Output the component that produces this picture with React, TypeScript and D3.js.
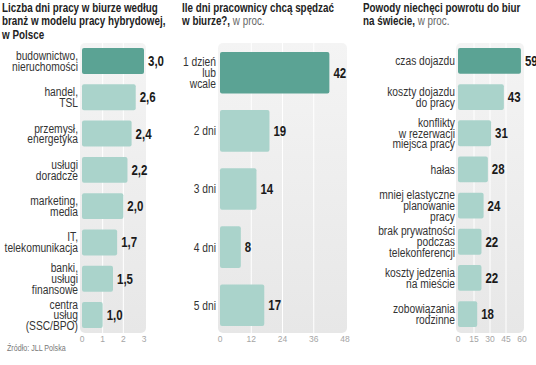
import React from "react";
import * as d3 from "d3";

// panel 1: dni w biurze wg branż
const industries = [
  ["budownictwo,", "nieruchomości"],
  ["handel,", "TSL"],
  ["przemysł,", "energetyka"],
  ["usługi", "doradcze"],
  ["marketing,", "media"],
  ["IT,", "telekomunikacja"],
  ["banki,", "usługi", "finansowe"],
  ["centra", "usług", "(SSC/BPO)"],
];
const industryDays = [3.0, 2.6, 2.4, 2.2, 2.0, 1.7, 1.5, 1.0];
const industryTicks = [0, 1, 2, 3];

// panel 2: ile dni pracownicy chcą spędzać w biurze
const dayOptions = [["1 dzień", "lub", "wcale"], ["2 dni"], ["3 dni"], ["4 dni"], ["5 dni"]];
const dayShares = [42, 19, 14, 8, 17];
const dayTicks = [0, 12, 24, 36, 48];

// panel 3: powody niechęci powrotu do biur
const reasons = [
  ["czas dojazdu"],
  ["koszty dojazdu", "do pracy"],
  ["konflikty", "w rezerwacji", "miejsca pracy"],
  ["hałas"],
  ["mniej elastyczne", "planowanie", "pracy"],
  ["brak prywatności", "podczas", "telekonferencji"],
  ["koszty jedzenia", "na mieście"],
  ["zobowiązania", "rodzinne"],
];
const reasonShares = [59, 43, 31, 28, 24, 22, 22, 18];
const reasonTicks = [0, 15, 30, 45, 60];

const FONT = "'Liberation Sans', Arial, sans-serif";
const SX = 0.82; // no narrow font installed -> squeeze horizontally
const DARK = "#5ba394";
const LIGHT = "#aad3cb";

// text squeezed horizontally, anchored at (x, y)
const T = ({ x, y, sx = SX, children, ...rest }) => (
  <text transform={`translate(${x},${y}) scale(${sx},1)`} fontFamily={FONT} {...rest}>
    {children}
  </text>
);

const Panel = ({ title, sub, tx, labels, values, ticks, xr, yr, pad, fmt, labelRight }) => {
  const x = d3.scaleLinear().domain([0, ticks[ticks.length - 1]]).range(xr);
  const y = d3
    .scaleBand()
    .domain(labels.map((_, i) => String(i)))
    .range(yr)
    .paddingInner(pad)
    .paddingOuter(0);
  const bgTop = 43;
  const bgBottom = 333;
  const gid = "bg" + tx;
  return (
    <g>
      <defs>
        <linearGradient id={gid} x1="0" y1="0" x2="0" y2="1">
          <stop offset="0" stopColor="#f4f4f4" />
          <stop offset="1" stopColor="#e7e7e7" />
        </linearGradient>
      </defs>
      <T x={tx} y={12} fontSize={12} fontWeight="bold" fill="#222">
        {title.map((t, i) => (
          <tspan key={i} x={0} y={i * 13.5}>
            {t}
            {i === title.length - 1 && sub ? (
              <tspan fontWeight="normal" fill="#666">{sub}</tspan>
            ) : null}
          </tspan>
        ))}
      </T>
      <rect
        x={x(0) - 2}
        y={bgTop}
        width={x.range()[1] - x(0) + 4}
        height={bgBottom - bgTop}
        rx={5}
        fill={`url(#${gid})`}
      />
      {ticks.slice(1, -1).map((t) => (
        <line key={t} x1={x(t)} x2={x(t)} y1={bgTop} y2={bgBottom} stroke="#fff" strokeWidth={1} />
      ))}
      {values.map((v, i) => {
        const by = y(String(i));
        const bh = y.bandwidth();
        const cy = by + bh / 2;
        const lines = labels[i];
        const lh = 10.8;
        return (
          <g key={i}>
            <rect x={x(0)} y={by} width={x(v) - x(0)} height={bh} rx={2} fill={i === 0 ? DARK : LIGHT} />
            <T x={x(v) + 4} y={cy + 5} fontWeight="bold" fontSize={14} fill="#1a1a1a">
              {fmt(v)}
            </T>
            <T x={labelRight} y={cy} textAnchor="end" fontSize={12.5} fill="#333">
              {lines.map((l, j) => (
                <tspan key={j} x={0} y={(j - (lines.length - 1) / 2) * lh + 4.4}>
                  {l}
                </tspan>
              ))}
            </T>
          </g>
        );
      })}
      {ticks.map((t) => (
        <text key={t} x={x(t)} y={342} textAnchor="middle" fontFamily={FONT} fontSize={8.5} fill="#a5a5a5">
          {t}
        </text>
      ))}
    </g>
  );
};

export default function App() {
  return (
    <svg width={536} height={365} style={{ position: "absolute", left: 0, top: 0, background: "#fff" }}>
      <Panel
        title={["Liczba dni pracy w biurze według", "branż w modelu pracy hybrydowej,", "w Polsce"]}
        sub={null}
        tx={2}
        labels={industries}
        values={industryDays}
        ticks={industryTicks}
        xr={[82, 144]}
        yr={[48, 328]}
        pad={0.286}
        fmt={(v) => v.toFixed(1).replace(".", ",")}
        labelRight={78}
      />
      <Panel
        title={["Ile dni pracownicy chcą spędzać", "w biurze?,"]}
        sub=" w proc."
        tx={182}
        labels={dayOptions}
        values={dayShares}
        ticks={dayTicks}
        xr={[220, 345]}
        yr={[52, 326]}
        pad={0.284}
        fmt={(v) => String(v)}
        labelRight={216}
      />
      <Panel
        title={["Powody niechęci powrotu do biur", "na świecie,"]}
        sub=" w proc."
        tx={363}
        labels={reasons}
        values={reasonShares}
        ticks={reasonTicks}
        xr={[458, 522]}
        yr={[48, 327]}
        pad={0.286}
        fmt={(v) => String(v)}
        labelRight={455}
      />
      <T x={7} y={351} fontSize={8.7} fill="#777">
        Źródło: JLL Polska
      </T>
    </svg>
  );
}
